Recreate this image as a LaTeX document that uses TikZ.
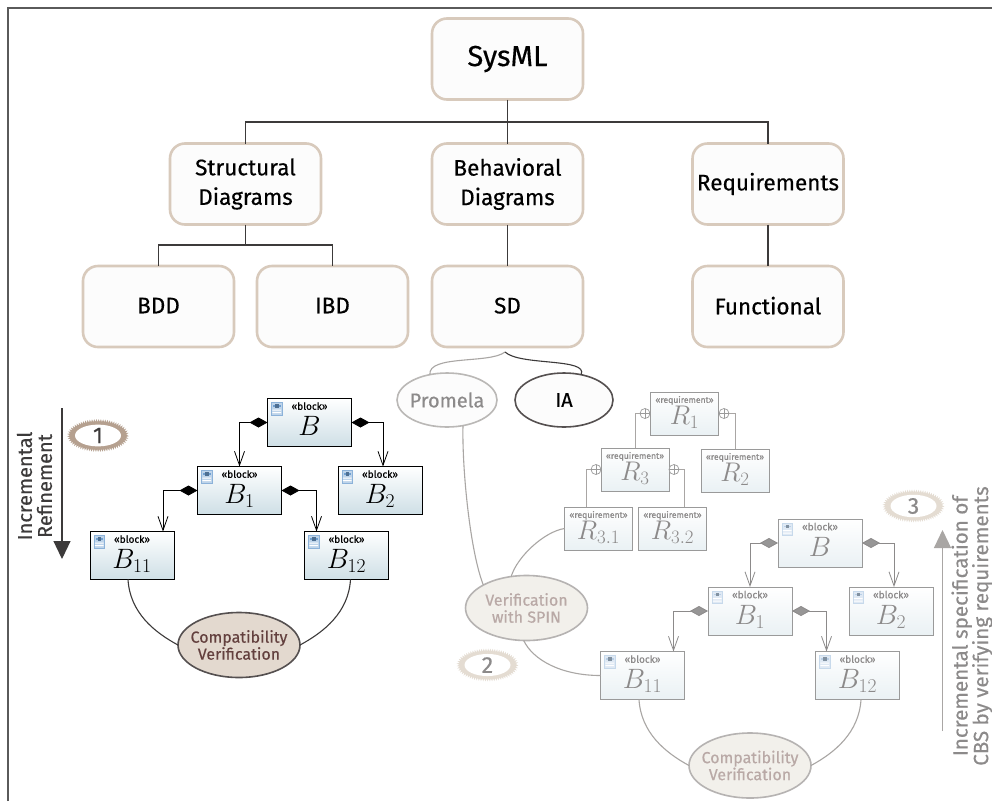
\documentclass[tikz,border=0pt]{standalone}
\usepackage{fix-cm}
\usepackage{fontspec}
\setmainfont{Fira Sans}
\newfontfamily\medf[FakeBold=0.4]{Fira Sans}
\usetikzlibrary{arrows.meta,shapes.geometric,decorations.pathmorphing,calc}
\definecolor{boxline}{HTML}{D8CABC}
\definecolor{boxfill}{HTML}{FCFCFC}
\definecolor{frameline}{HTML}{5A5A5A}
\definecolor{darkline}{HTML}{3C3A3A}
\definecolor{midline}{HTML}{555050}
\definecolor{fadeline}{HTML}{A9A6A4}
\definecolor{fadetext}{HTML}{8C8A8A}
\definecolor{blockbot}{HTML}{CEDFE6}
\definecolor{fadebot}{HTML}{EAF1F4}
\definecolor{fadeborder}{HTML}{9A9A9A}
\definecolor{tanfill}{HTML}{E3D9CF}
\definecolor{tantext}{HTML}{63403E}
\definecolor{palefill}{HTML}{F2F0EB}
\definecolor{paletext}{HTML}{B9A9A6}
\definecolor{badgedark}{HTML}{B5A08F}
\definecolor{badgepale}{HTML}{E4DCD2}
\definecolor{icondark}{HTML}{6F9FD0}
\definecolor{iconpale}{HTML}{B9CFE6}
\newcommand{\fs}[1]{\fontsize{#1}{#1}\selectfont}
\newcommand{\zw}[1]{\makebox[0pt][c]{#1}}
\newcommand{\up}[1]{\raisebox{2pt}{#1}}
\tikzset{
  x=1pt,y=-1pt,
  topbox/.style={draw=boxline,fill=boxfill,line width=2.6pt,rounded corners=15pt,minimum width=151pt,minimum height=81pt,inner sep=0pt,outer sep=0pt,align=center,font=\medf\fs{22.5}},
  treeline/.style={draw=darkline,line width=1.3pt},
  blockbox/.style={draw=black,line width=1pt,top color=white,bottom color=blockbot,minimum width=84pt,minimum height=48pt,inner sep=0pt,outer sep=0pt,align=center,text=black,font=\fs{28},text depth=7pt},
  blockfade/.style={blockbox,draw=fadeborder,top color=white,bottom color=fadebot,text=fadetext},
  reqbox/.style={blockfade,minimum width=68pt,minimum height=43pt,font=\fs{27},line width=.9pt,text depth=6pt},
  oval/.style={ellipse,minimum width=#1,inner sep=0pt,outer sep=0pt,align=center,line width=1.6pt},
  ovaldark/.style={oval=122pt,minimum height=65pt,draw=midline,fill=tanfill,text=tantext,font=\medf\fs{16}},
  ovalpale/.style={oval=122pt,minimum height=65pt,draw=fadeline!85,fill=palefill,text=paletext,font=\medf\fs{16}},
  comp/.style={draw=black,line width=.8pt,{Diamond[length=18pt,width=10pt,fill=black]}-{Straight Barb[length=14pt,width=10pt,line width=.8pt]}},
  compfade/.style={draw=fadetext,line width=.8pt,{Diamond[length=18pt,width=10pt,fill=fadetext!90]}-{Straight Barb[length=14pt,width=10pt,line width=.8pt]}},
  curvedark/.style={draw=darkline,line width=1.1pt},
  curvefade/.style={draw=fadeline,line width=1.1pt},
  reqline/.style={draw=fadeline,line width=.9pt},
  plus/.style={circle,draw=fadeborder,line width=.7pt,minimum size=10pt,inner sep=0pt,outer sep=0pt,fill=white,
    path picture={\draw[fadeborder,line width=.7pt] (path picture bounding box.north)--(path picture bounding box.south)
      (path picture bounding box.west)--(path picture bounding box.east);}},
  ring/.style={decorate,decoration={zigzag,segment length=2.2pt,amplitude=1.4pt}},
  badgein/.style={ellipse,fill=white,minimum width=46pt,minimum height=21pt,inner sep=0pt,outer sep=0pt,font=\medf\fs{23}},
  blockicon/.pic={
    \path[fill=#1!45!white,draw=#1!80!white,line width=.4pt] (0,0) rectangle (10.5,12.5);
    \path[fill=white] (.8,7) rectangle (9.7,8.1) (.8,9.7) rectangle (9.7,10.6);
    \path[fill=#1] (1.5,2.5) rectangle (9,4);
    \path[fill=#1!70!black] (3.5,1.5) rectangle (7,5);
  }
}
\newcommand{\blk}{{\medf\fs{10}«block»}}
\newcommand{\req}{{\medf\fs{8.6}«requirement»}}
\begin{document}
\begin{tikzpicture}
\useasboundingbox (0,0) rectangle (992,801);
\fill[white] (0,0) rectangle (992,801);
\coordinate (fa) at (8,801); \coordinate (fb) at (8,8); \coordinate (fc) at (992,8);
\draw[frameline,line width=1.2pt] (fa)--(fb)--(fc);

% top tree
\node[topbox,font=\medf\fs{29}] (sysml) at (507.5,59) {SysML};
\node[topbox] (struct) at (245.5,184) {Structural\\[7pt]Diagrams};
\node[topbox] (behav) at (507.5,184) {Behavioral\\[7pt]Diagrams};
\node[topbox] (reqs) at (768,184) {\up{Requirements}};
\node[topbox] (bdd) at (158.5,306.5) {\up{BDD}};
\node[topbox] (ibd) at (332.5,306.5) {\up{IBD}};
\node[topbox] (sd) at (507.5,306.5) {\up{SD}};
\node[topbox] (func) at (768,306.5) {\up{Functional}};
\coordinate (jt) at (507.5,122);
\coordinate (js) at (245.5,245);
\draw[treeline] (sysml.south)--(jt) (struct.north)|-(jt)--(behav.north) (jt)-|(reqs.north);
\draw[treeline] (struct.south)--(js) (bdd.north)|-(js)-|(ibd.north);
\draw[treeline] (behav.south)--(sd.north);
\draw[treeline] (reqs.south)--(func.north);

% left blocks
\node[blockbox] (b) at (309.5,422.5) {\blk\\[-2pt]$B$};
\node[blockbox] (b1) at (239.5,490.5) {\blk\\[-2pt]$B_1$};
\node[blockbox] (b2) at (380,490.5) {\blk\\[-2pt]$B_2$};
\node[blockbox] (b11) at (132,555.5) {\blk\\[-2pt]$B_{11}$};
\node[blockbox] (b12) at (346.5,555.5) {\blk\\[-2pt]$B_{12}$};
\foreach \n in {b,b1,b2,b11,b12}{\pic at ($(\n.north west)+(4,4)$) {blockicon=icondark};}
\draw[comp] (b.west)-|(b1.north);
\draw[comp] (b.east)-|([xshift=3pt]b2.north);
\draw[comp] (b1.west)-|([xshift=31pt]b11.north);
\draw[comp] (b1.east)-|([xshift=-30pt]b12.north);
\node[ovaldark] (cv) at (239,645) {\zw{Compatibility}\\[1pt]\zw{Verification}};
\draw[curvedark] ([xshift=-4pt]b11.south) .. controls +(2,33) and +(-24,-13) .. (cv.west);
\draw[curvedark] ([xshift=4pt]b12.south) .. controls +(-2,33) and +(24,-13) .. (cv.east);

\node[rotate=90,align=center,font=\medf\fs{20},text=darkline] (inc) at (34.5,486) {Incremental\\[0pt]Refinement};
\coordinate (ia) at (62,408); \coordinate (ib) at (62,559);
\draw[draw=darkline,line width=1.2pt,-{Triangle[length=18pt,width=17pt,fill=darkline]}] (ia)--(ib);
\path[fill=badgedark,ring] (98,435.5) ellipse (29.5 and 15);
\node[badgein,text=darkline] (bd1) at (98,435.5) {1};

% Promela, IA
\node[oval=100pt,minimum height=54pt,draw=fadeline!80,fill=boxfill,text=fadetext,font=\medf\fs{20}] (pm) at (447,400) {\zw{Promela}};
\node[oval=98pt,minimum height=54pt,draw=midline,fill=boxfill,text=black,font=\medf\fs{20}] (ia2) at (564,400) {IA};
\coordinate (jsd) at (505,352);
\draw[curvefade] (jsd) .. controls +(-15,12) and +(-2,-20) .. (pm.124);
\draw[curvedark] (jsd) .. controls +(15,14) and +(8,-17) .. (ia2.56);

% requirements
\node[reqbox] (r1) at (684.5,413.5) {\req\\[-5pt]$R_1$};
\node[reqbox] (r3) at (635,469.5) {\req\\[-5pt]$R_3$};
\node[reqbox] (r2) at (735,470.5) {\req\\[-5pt]$R_2$};
\node[reqbox] (r31) at (598.5,528.5) {\req\\[-5pt]$R_{3.1}$};
\node[reqbox] (r32) at (672.5,528.5) {\req\\[-5pt]$R_{3.2}$};
\node[plus] (p1) at (645,413.5) {};
\node[plus] (p2) at (724,413.5) {};
\node[plus] (p3) at (596,469.5) {};
\node[plus] (p4) at (674,469.5) {};
\draw[reqline] (p1.west)-|(r3.north);
\draw[reqline] (p2.east)-|(r2.north);
\draw[reqline] (p3.west)-|([xshift=-12pt]r31.north);
\draw[reqline] (p4.east)-|([xshift=12pt]r32.north);

% right blocks
\node[blockfade] (rb) at (820,543) {\blk\\[-2pt]$B$};
\node[blockfade] (rb1) at (750,611) {\blk\\[-2pt]$B_1$};
\node[blockfade] (rb2) at (891,611) {\blk\\[-2pt]$B_2$};
\node[blockfade] (rb11) at (642.5,675.5) {\blk\\[-2pt]$B_{11}$};
\node[blockfade] (rb12) at (857.5,675.5) {\blk\\[-2pt]$B_{12}$};
\foreach \n in {rb,rb1,rb2,rb11,rb12}{\pic at ($(\n.north west)+(4,4)$) {blockicon=iconpale};}
\draw[compfade] (rb.west)-|(rb1.north);
\draw[compfade] (rb.east)-|([xshift=3pt]rb2.north);
\draw[compfade] (rb1.west)-|([xshift=31pt]rb11.north);
\draw[compfade] (rb1.east)-|([xshift=-31pt]rb12.north);
\node[ovalpale] (vs) at (526.5,608) {\zw{Verification}\\[1pt]\zw{with SPIN}};
\node[ovalpale] (cv2) at (750,765.5) {\zw{Compatibility}\\[1pt]\zw{Verification}};
\draw[curvefade] (pm.-58) .. controls +(-1,45) and +(-13,-33) .. (vs.152);
\draw[curvefade] (r31.west) .. controls +(-20,3) and +(6,-20) .. (vs.116);
\draw[curvefade] (vs.265) .. controls +(9,19) and +(-40,0) .. (rb11.west);
\draw[curvefade] ([xshift=-3.5pt]rb11.south) .. controls +(2,33) and +(-24,-13) .. (cv2.west);
\draw[curvefade] ([xshift=3.5pt]rb12.south) .. controls +(-2,33) and +(24,-13) .. (cv2.east);

\path[fill=badgepale,ring] (487.5,665) ellipse (29.5 and 15);
\node[badgein,text=fadetext] (bd2) at (487.5,665) {2};
\path[fill=badgepale,ring] (913.5,506) ellipse (29.5 and 15);
\node[badgein,text=fadetext] (bd3) at (913.5,506) {3};
\coordinate (ua) at (942.5,731); \coordinate (ub) at (942.5,530);
\draw[draw=fadeline,line width=1.2pt,-{Triangle[length=18pt,width=17pt,fill=fadeline]}] (ua)--(ub);
\node[rotate=90,align=center,font=\medf\fs{20.6},text=fadetext] (incs) at (972,626) {Incremental specification of\\[0pt]CBS by verifying requirements};
\end{tikzpicture}
\end{document}
